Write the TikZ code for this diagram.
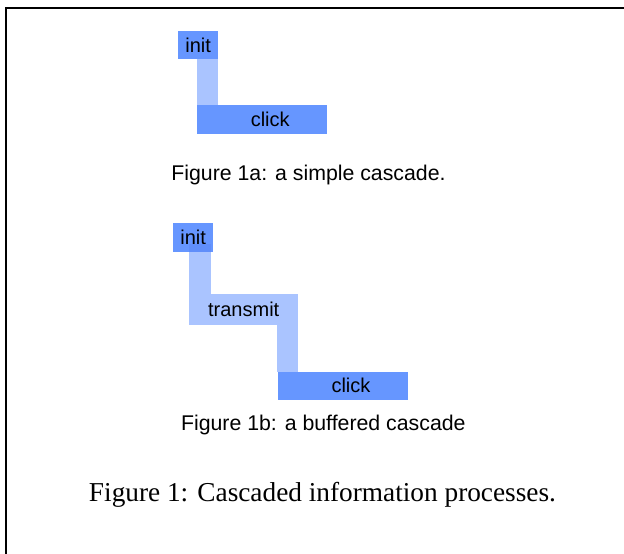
\documentclass[tikz,border=0pt]{standalone}
\usepackage{fontspec}
\setmainfont{Liberation Serif}
\setsansfont{Liberation Sans}
\definecolor{boxdark}{RGB}{102,150,255}
\definecolor{boxlight}{RGB}{170,196,255}
\definecolor{boxover}{RGB}{96,142,250}
\begin{document}
\begin{tikzpicture}[x=1pt,y=-1pt,
  box/.style={fill=boxdark, draw=none, inner sep=0pt, anchor=north west,
    font=\sffamily\fontsize{20}{24}\selectfont, text=black},
  lightbox/.style={box, fill=boxlight},
  bar/.style={fill=boxlight},
  overbar/.style={fill=boxover},
  subcap/.style={anchor=base, inner sep=0pt, font=\sffamily\fontsize{21.3}{25}\selectfont},
  maincap/.style={anchor=base, inner sep=0pt, font=\rmfamily\fontsize{27.3}{32}\selectfont},
  frame/.style={line width=2pt, draw=black}]
\useasboundingbox (0,0) rectangle (624,554);
\fill[white] (0,0) rectangle (624,554);
% frame
\draw[frame] (5.5,600) -- (5.5,8.2) -- (700,8.2);

% Figure 1a
\node[box, minimum width=40, minimum height=28] (initA) at (178,31) {init};
\node[box, minimum width=130, minimum height=29] (clickA) at (197,105) {\hspace{16pt}click};
\fill[bar] (clickA.north west) rectangle (initA.south east);
\node[subcap] (capA) at (308.5,180.7) {Figure 1a: a simple cascade.};

% Figure 1b
\node[box, minimum width=40, minimum height=28.5] (initB) at (173,223.2) {init};
\node[lightbox, minimum width=109, minimum height=31] (transB) at (189,293.3) {transmit};
\node[box, minimum width=130, minimum height=27.6] (clickB) at (277.3,371.7) {\hspace{17pt}click};
\fill[bar] ([yshift=-1pt]transB.north west) rectangle ([xshift=-2.5pt]initB.south east);
\fill[overbar] (initB.south -| transB.north west) rectangle ([xshift=-2.5pt, yshift=8.4pt]initB.south east);
\fill[bar] (clickB.north west) rectangle ([yshift=1pt]transB.south east);
\node[subcap] (capB) at (323.3,430) {Figure 1b: a buffered cascade};

% main caption
\node[maincap] (capMain) at (322.5,501.7) {Figure 1: Cascaded information processes.};
\end{tikzpicture}
\end{document}
